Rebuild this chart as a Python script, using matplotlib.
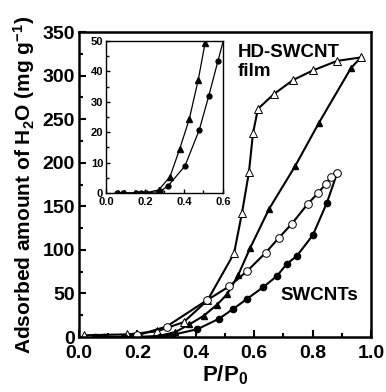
import numpy as np
import matplotlib
matplotlib.use('Agg')
import matplotlib.pyplot as plt
from matplotlib.ticker import MultipleLocator

plt.rcParams['font.family'] = ['Liberation Sans', 'DejaVu Sans']
plt.rcParams['font.weight'] = 'bold'
plt.rcParams['mathtext.default'] = 'regular'

# HD-SWCNT film, adsorption (filled triangles)
film_ads_x = [0.06, 0.09, 0.15, 0.20, 0.27, 0.328, 0.378, 0.427, 0.473, 0.508, 0.545, 0.586, 0.651, 0.740, 0.822, 0.932, 0.966]
film_ads_y = [0, 0, 0, 0, 1, 5.3, 14.5, 24.3, 37.2, 49.3, 71, 102, 147, 196, 246, 309, 321]
# HD-SWCNT film, desorption (open triangles)
film_des_x = [0.966, 0.884, 0.801, 0.733, 0.668, 0.613, 0.596, 0.582, 0.558, 0.531, 0.440, 0.358, 0.267, 0.166, 0.017]
film_des_y = [321, 317, 306, 295, 279, 262, 234, 189, 142, 96, 42, 17, 6.5, 3, 2]
# SWCNTs, adsorption (filled circles)
swnt_ads_x = [0.056, 0.087, 0.154, 0.18, 0.205, 0.277, 0.318, 0.405, 0.478, 0.527, 0.574, 0.630, 0.678, 0.712, 0.746, 0.801, 0.849, 0.884]
swnt_ads_y = [0, 0, 0, 0, 0, 0.5, 2.3, 8.9, 20.7, 31.9, 43.4, 57, 70, 84, 93, 117, 154, 188]
# SWCNTs, desorption (open circles)
swnt_des_x = [0.884, 0.863, 0.846, 0.818, 0.784, 0.729, 0.685, 0.640, 0.577, 0.514, 0.437, 0.30, 0.20]
swnt_des_y = [188, 184, 176, 165, 153, 130, 114, 97, 76, 58, 42, 12, 2]

fig = plt.figure(figsize=(3.86, 3.92), dpi=100)
ax = fig.add_axes([0.2047, 0.1403, 0.7563, 0.7777])

lw = 1.5
ax.plot(film_ads_x, film_ads_y, '-^', color='black', lw=lw, ms=5, mfc='black', mec='black')
ax.plot(film_des_x, film_des_y, '-^', color='black', lw=lw, ms=6, mfc='white', mec='black', mew=0.7)
ax.plot(swnt_ads_x, swnt_ads_y, '-o', color='black', lw=lw, ms=4.5, mfc='black', mec='black')
ax.plot(swnt_des_x, swnt_des_y, '-o', color='black', lw=lw, ms=5.5, mfc='white', mec='black', mew=0.7)

ax.set_xlim(0, 1.0)
ax.set_ylim(0, 350)
ax.xaxis.set_major_locator(MultipleLocator(0.2))
ax.xaxis.set_minor_locator(MultipleLocator(0.1))
ax.yaxis.set_major_locator(MultipleLocator(50))
ax.yaxis.set_minor_locator(MultipleLocator(25))
ax.xaxis.set_major_formatter(plt.FormatStrFormatter('%.1f'))
ax.tick_params(which='both', direction='in', top=False, right=False, labelsize=14, width=1.5)
ax.tick_params(axis='x', pad=6)
ax.tick_params(axis='y', pad=3)
ax.tick_params(which='major', length=5)
ax.tick_params(which='minor', length=3)
for s in ax.spines.values():
    s.set_linewidth(1.8)

ax.set_xlabel('P/P$_0$', fontsize=16, fontweight='bold', labelpad=1)
ax.set_ylabel('Adsorbed amount of H$_2$O (mg g$^{-1}$)', fontsize=15, fontweight='bold', labelpad=4)

ax.text(0.545, 0.96, 'HD-SWCNT\nfilm', transform=ax.transAxes, fontsize=13.5,
        fontweight='bold', va='top', ha='left', linespacing=1.15)
ax.text(0.69, 0.135, 'SWCNTs', transform=ax.transAxes, fontsize=13.5,
        fontweight='bold', va='center', ha='left')

# inset
ins = fig.add_axes([0.2746, 0.5077, 0.3031, 0.3877])
ins.plot(film_ads_x, film_ads_y, '-^', color='black', lw=0.9, ms=4, mfc='black', mec='black')
ins.plot(swnt_ads_x, swnt_ads_y, '-o', color='black', lw=0.9, ms=3.5, mfc='black', mec='black')
ins.set_xlim(0, 0.6)
ins.set_ylim(0, 50)
ins.xaxis.set_major_locator(MultipleLocator(0.2))
ins.xaxis.set_minor_locator(MultipleLocator(0.1))
ins.yaxis.set_major_locator(MultipleLocator(10))
ins.yaxis.set_minor_locator(MultipleLocator(5))
ins.xaxis.set_major_formatter(plt.FormatStrFormatter('%.1f'))
ins.tick_params(which='both', direction='in', top=False, right=False, labelsize=8, width=1.0)
ins.tick_params(axis='x', pad=3)
ins.tick_params(axis='y', pad=2)
ins.tick_params(which='major', length=3)
ins.tick_params(which='minor', length=2)
for s in ins.spines.values():
    s.set_linewidth(1.0)

fig.savefig('out.png', dpi=100)
